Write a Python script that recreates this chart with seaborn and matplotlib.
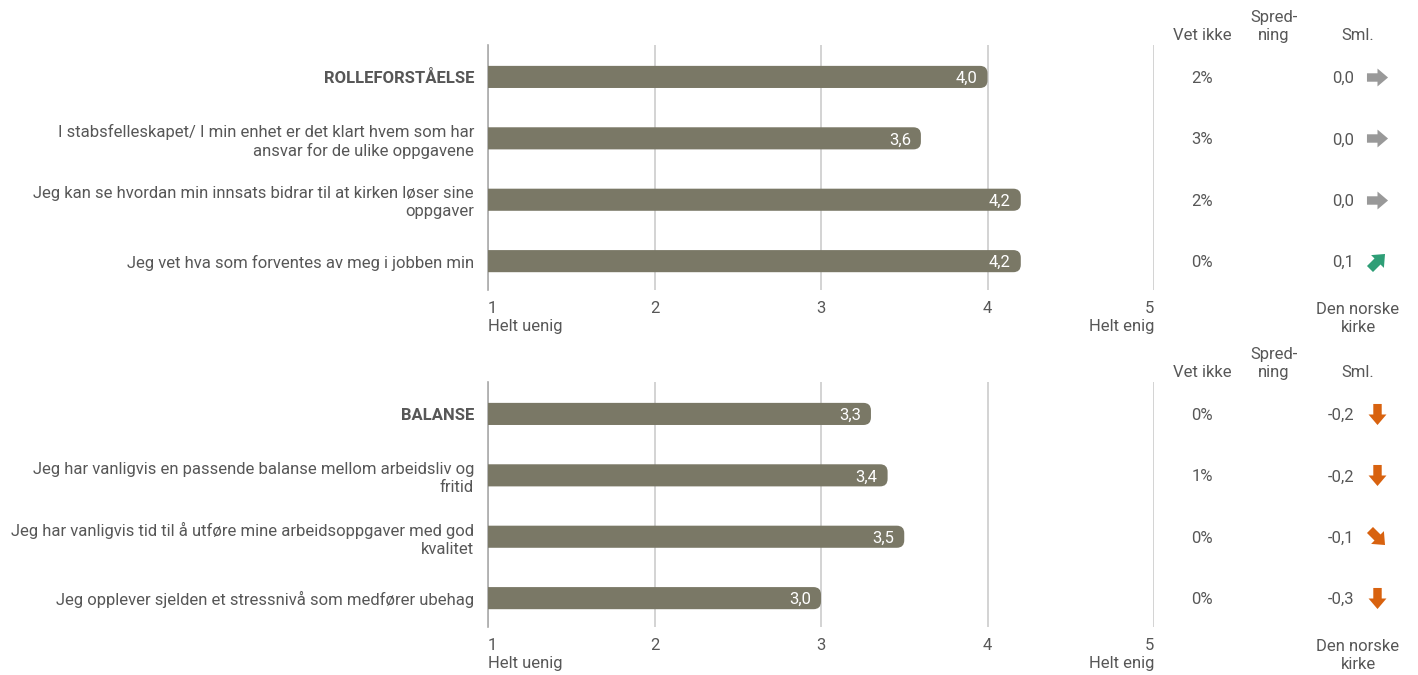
import numpy as np
import pandas as pd
import matplotlib.pyplot as plt
import seaborn as sns
from matplotlib.patches import FancyBboxPatch
from matplotlib.path import Path

# data
labels_1 = ["ROLLEFORSTÅELSE",
            "I stabsfelleskapet/ I min enhet er det klart hvem som har\nansvar for de ulike oppgavene",
            "Jeg kan se hvordan min innsats bidrar til at kirken løser sine\noppgaver",
            "Jeg vet hva som forventes av meg i jobben min"]
scores_1 = [4.0, 3.6, 4.2, 4.2]
vet_ikke_1 = [2, 3, 2, 0]
sml_1 = [0.0, 0.0, 0.0, 0.1]

labels_2 = ["BALANSE",
            "Jeg har vanligvis en passende balanse mellom arbeidsliv og\nfritid",
            "Jeg har vanligvis tid til å utføre mine arbeidsoppgaver med god\nkvalitet",
            "Jeg opplever sjelden et stressnivå som medfører ubehag"]
scores_2 = [3.3, 3.4, 3.5, 3.0]
vet_ikke_2 = [0, 1, 0, 0]
sml_2 = [-0.2, -0.2, -0.1, -0.3]

tick_vals = [1, 2, 3, 4, 5]
tick_labels = ["1\nHelt uenig", "2", "3", "4", "5\nHelt enig"]

sns.set_style("white")
plt.rcParams['font.family'] = ['Roboto', 'DejaVu Sans']

BAR = "#7a7866"
TXT = "#575757"
FS = 12
LS = 1.25
W, H = 1418, 675
px = 166.5  # pixels per x unit


def fmt(v):
    return f"{v:.1f}".replace(".", ",")


def arrow_marker(angle):
    v = np.array([[-1, -0.4], [0.0, -0.4], [0.0, -0.85], [1, 0], [0.0, 0.85],
                  [0.0, 0.4], [-1, 0.4], [-1, -0.4]])
    a = np.deg2rad(angle)
    r = np.array([[np.cos(a), -np.sin(a)], [np.sin(a), np.cos(a)]])
    return Path(v @ r.T, closed=True)


def arrow_style(d):
    if d >= 0.2:
        return 90, "#2e9e76"
    if d > 0.05:
        return 45, "#2e9e76"
    if d > -0.05:
        return 0, "#999999"
    if d > -0.15:
        return -45, "#d8620f"
    return -90, "#d8620f"


def panel(top, labels, scores, vet, sml):
    ax = fig.add_axes([488 / W, 1 - (top + 245) / H, 666 / W, 245 / H])
    df = pd.DataFrame({"label": labels, "score": scores})
    sns.barplot(data=df, x="score", y="label", orient="h", color=BAR,
                width=0.36, ax=ax, saturation=1)
    # rounded bar ends
    for p in list(ax.patches):
        x, y, w, h = p.get_x(), p.get_y(), p.get_width(), p.get_height()
        p.remove()
        fb = FancyBboxPatch((x, y), w, h,
                            boxstyle="round,pad=0,rounding_size=0.045",
                            mutation_aspect=166.5 / 61.3,
                            fc=BAR, ec="none", zorder=3)
        ax.add_patch(fb)
    ax.set_xlim(1, 5)
    ax.set_ylim(3.47, -0.52)
    ax.set_xlabel("")
    ax.set_ylabel("")
    ax.set_xticks(tick_vals)
    ax.set_xticklabels(tick_labels, fontsize=FS, color=TXT, linespacing=LS)
    xl = ax.get_xticklabels()
    xl[0].set_ha("left")
    xl[-1].set_ha("right")
    ax.tick_params(axis="x", length=0, pad=8)
    ax.tick_params(axis="y", length=0, pad=10, labelsize=FS, labelcolor=TXT)
    for t in ax.get_yticklabels():
        t.set_linespacing(LS)
    ax.get_yticklabels()[0].set_fontweight("bold")
    ax.xaxis.grid(True, color="#cccccc", lw=1.2, zorder=0)
    ax.set_axisbelow(True)
    for s in ["top", "right", "bottom"]:
        ax.spines[s].set_visible(False)
    ax.spines["left"].set_color("#aaaaaa")
    ax.spines["left"].set_linewidth(1.2)

    for i, s in enumerate(scores):
        ax.text(s - 0.06, i, fmt(s), color="white", fontsize=FS,
                ha="right", va="center_baseline", zorder=4)
        ax.text(1 + (1202 - 488) / px, i, f"{vet[i]}%", color=TXT,
                fontsize=FS, ha="center", va="center_baseline")
        ax.text(1 + (1354 - 488) / px, i, fmt(sml[i]), color=TXT,
                fontsize=FS, ha="right", va="center_baseline")
        ang, col = arrow_style(sml[i])
        ax.scatter([1 + (1377 - 488) / px], [i], marker=arrow_marker(ang),
                   s=230, color=col, clip_on=False, linewidths=0)

    hy = -0.56
    ax.text(1 + (1202 - 488) / px, hy, "Vet ikke", color=TXT, fontsize=FS,
            ha="center", va="bottom")
    ax.text(1 + (1274 - 488) / px, hy, "Spred-\nning", color=TXT, fontsize=FS,
            ha="center", va="bottom", linespacing=LS)
    ax.text(1 + (1358 - 488) / px, hy, "Sml.", color=TXT, fontsize=FS,
            ha="center", va="bottom")
    ax.text(1 + (1358 - 488) / px, 3.66, "Den norske\nkirke", color=TXT,
            fontsize=FS, ha="center", va="top", linespacing=LS)
    return ax


fig = plt.figure(figsize=(14.18, 6.75), dpi=100)
panel(45, labels_1, scores_1, vet_ikke_1, sml_1)
panel(382, labels_2, scores_2, vet_ikke_2, sml_2)
fig.savefig("out.png", dpi=100)
